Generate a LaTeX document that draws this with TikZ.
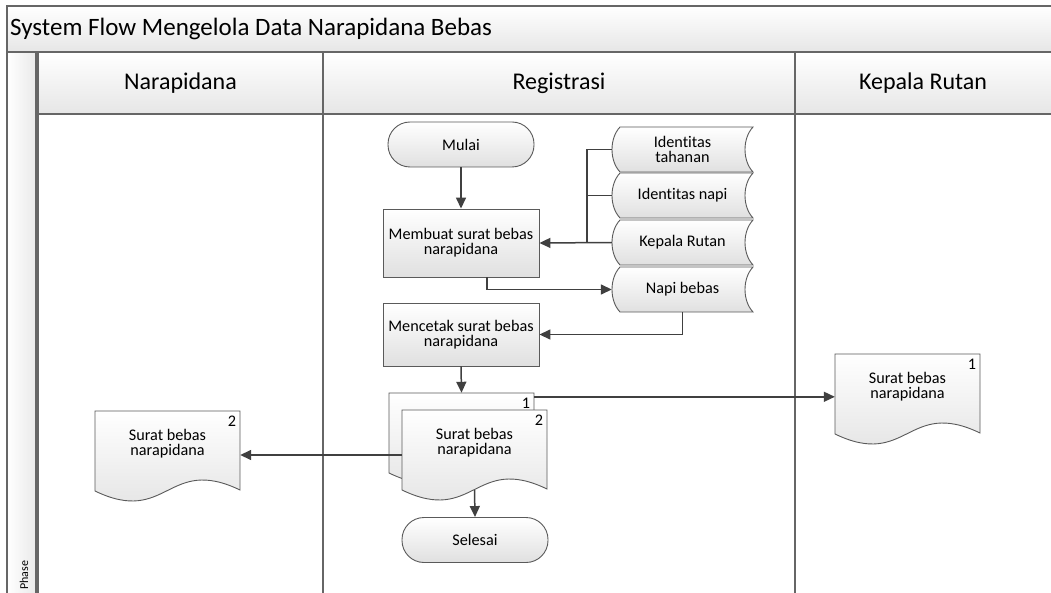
\documentclass[tikz,border=0pt]{standalone}
\usepackage{fontspec}
\setmainfont{Carlito}[Ligatures=NoCommon]
\usetikzlibrary{arrows.meta,calc}

\definecolor{framecol}{HTML}{666666}
\definecolor{edgecol}{HTML}{5A5A5A}
\definecolor{wirecol}{HTML}{404040}
\definecolor{shadebot}{HTML}{E0E0E0}

\newcommand\shapefont{\fontsize{16.2}{15}\selectfont}
\newcommand\headfont{\fontsize{24}{28}\selectfont}

\tikzset{
  laneline/.style={draw=framecol, line width=1.4pt},
  band/.style={laneline, top color=white, bottom color=shadebot!80},
  shapefill/.style={draw=edgecol, line width=0.9pt, top color=white, bottom color=shadebot},
  terminal/.style={shapefill, rounded corners=22pt, minimum width=146pt,
                   minimum height=45pt, font=\shapefont},
  process/.style={shapefill, minimum width=156pt, font=\shapefont, align=center},
  wire/.style={draw=wirecol, line width=1.5pt},
  arr/.style={wire, -{Triangle[length=11pt,width=10pt]}},
}

% stored data: name, left, top, text  (141 x 45)
\newcommand\storedata[4]{%
  \path[shapefill] (#2+8,#3) -- (#2+141,#3)
     .. controls (#2+130.33,#3+11.25) and (#2+130.33,#3+33.75) .. (#2+141,#3+45)
     -- (#2+8,#3+45)
     .. controls (#2-2.67,#3+33.75) and (#2-2.67,#3+11.25) .. (#2+8,#3) -- cycle;
  \node[font=\shapefont, align=center, minimum width=141pt, minimum height=45pt,
        inner sep=0pt] (#1) at (#2+70.5,#3+22.5) {#4};
}

% document: name, left, top, number, text  (145 x 80)
\newcommand\docshape[5]{%
  \path[shapefill] (#2,#3) -- (#2+145,#3) -- (#2+145,#3+79)
     .. controls (#2+72.5,#3+44) and (#2+72.5,#3+115) .. (#2,#3+80) -- cycle;
  \node[inner sep=0pt, minimum width=145pt, minimum height=80pt] (#1) at (#2+72.5,#3+40) {};
  \node[font=\shapefont, inner sep=0pt] (#1-num) at (#2+137,#3+10) {#4};
  \node[font=\shapefont, align=center, inner sep=0pt] (#1-txt) at (#2+72.5,#3+33) {#5};
}

\begin{document}
\begin{tikzpicture}[x=1pt, y=-1pt]
\clip (0,0) rectangle (1051,593);
\fill[white] (0,0) rectangle (1051,593);

% pool title
\path[band] (7,6) rectangle (1070,52);
\node[font=\fontsize{25}{28}\selectfont, anchor=west, inner sep=0pt] (pooltitle) at (10,29)
  {System Flow Mengelola Data Narapidana Bebas};

% phase strip
\path[laneline, left color=white, right color=shadebot!70] (7,52) rectangle (36,610);
\node[font=\fontsize{12}{14}\selectfont, rotate=90, anchor=west, inner sep=0pt]
  (phase) at (24,590) {Phase};

% lanes
\draw[laneline] (38,52) rectangle (323,610);
\draw[laneline] (323,52) rectangle (795,610);
\draw[laneline] (795,52) rectangle (1070,610);
\path[band] (38,52) rectangle (323,114);
\path[band] (323,52) rectangle (795,114);
\path[band] (795,52) rectangle (1070,114);
\node[font=\headfont] (laneA) at (180.5,83) {Narapidana};
\node[font=\headfont] (laneB) at (559,83) {Registrasi};
\node[font=\headfont] (laneC) at (923,83) {Kepala Rutan};

% flow shapes
\node[terminal] (mulai) at (461,144.5) {Mulai};
\node[process, minimum height=68pt] (membuat) at (461,243) {Membuat surat bebas\\narapidana};
\node[process, minimum height=63pt] (mencetak) at (461,334.5) {Mencetak surat bebas\\narapidana};

\storedata{tahanan}{612}{127}{Identitas\\tahanan}
\storedata{napi}{612}{173}{Identitas napi}
\storedata{kepala}{612}{220}{Kepala Rutan}
\storedata{napibebas}{612}{267}{Napi bebas}

\docshape{doc1}{389}{393}{1}{}
\docshape{doc2}{402}{410}{2}{Surat bebas\\narapidana}
\docshape{docL}{95}{411}{2}{Surat bebas\\narapidana}
\docshape{docR}{835}{354}{1}{Surat bebas\\narapidana}

\node[terminal] (selesai) at (475,540) {Selesai};

% connectors
\coordinate (bus) at (587,243);
\draw[arr] (mulai.south) -- (membuat.north);
\draw[wire] (tahanan.west) -| (bus);
\draw[wire] (napi.west) -- (napi.west -| bus);
\draw[arr] (kepala.west) -- (membuat.east);
\draw[arr] ($(membuat.south)+(26,0)$) |- (napibebas.west);
\draw[arr] (napibebas.south) |- (mencetak.east);
\draw[arr] (mencetak.south) -- (doc1.north);
\coordinate (d1out) at ($(doc1.north east)+(0,4)$);
\draw[arr] (d1out) -- (d1out -| docR.west);
\coordinate (d2out) at ($(doc2.west)+(0,5)$);
\draw[arr] (d2out) -- (d2out -| docL.east);
\draw[arr] (doc2.south) -- (selesai.north);
\end{tikzpicture}
\end{document}
